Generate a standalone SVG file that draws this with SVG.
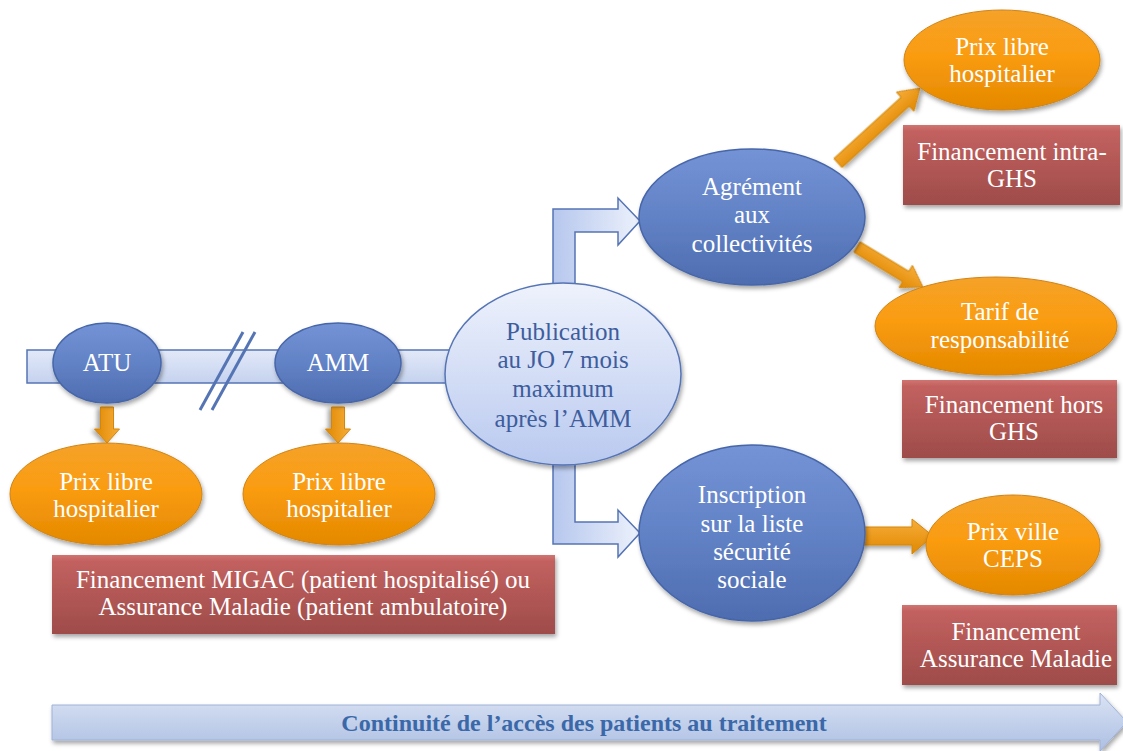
<svg xmlns="http://www.w3.org/2000/svg" width="1123" height="751" viewBox="0 0 1123 751">
<defs>
<linearGradient id="gDark" x1="0" y1="0" x2="0" y2="1"><stop offset="0" stop-color="#7493d6"/><stop offset="0.5" stop-color="#6282c6"/><stop offset="1" stop-color="#4e6cb0"/></linearGradient>
<linearGradient id="gOrange" x1="0" y1="0" x2="0" y2="1"><stop offset="0" stop-color="#f5a22a"/><stop offset="0.45" stop-color="#fa9c10"/><stop offset="1" stop-color="#e48800"/></linearGradient>
<linearGradient id="gRed" x1="0" y1="0" x2="0" y2="1"><stop offset="0" stop-color="#d07472"/><stop offset="0.08" stop-color="#c2615f"/><stop offset="1" stop-color="#9e4c4a"/></linearGradient>
<linearGradient id="gPub" x1="0" y1="0" x2="0" y2="1"><stop offset="0" stop-color="#eef2fc"/><stop offset="1" stop-color="#b9c9ef"/></linearGradient>
<linearGradient id="gBar" x1="0" y1="0" x2="0" y2="1"><stop offset="0" stop-color="#e2e9f8"/><stop offset="1" stop-color="#c5d2ef"/></linearGradient>
<linearGradient id="gBent" x1="0" y1="0" x2="1" y2="0"><stop offset="0" stop-color="#b6c7ee"/><stop offset="1" stop-color="#ecf1fb"/></linearGradient>
<linearGradient id="gBottom" x1="0" y1="0" x2="0" y2="1"><stop offset="0" stop-color="#dbe3f4"/><stop offset="0.5" stop-color="#c3d1eb"/><stop offset="1" stop-color="#adbfe2"/></linearGradient>
<linearGradient id="gArrowO" x1="0" y1="0" x2="0" y2="1"><stop offset="0" stop-color="#f7ad3a"/><stop offset="1" stop-color="#e08800"/></linearGradient>
<filter id="sh" x="-20%" y="-20%" width="140%" height="150%"><feDropShadow dx="1.5" dy="3" stdDeviation="2" flood-color="#000" flood-opacity="0.35"/></filter>
</defs>
<style>
text{font-family:"Liberation Serif","Times New Roman",serif;font-size:25px;text-anchor:middle;}
.w{fill:#ffffff;}
.b{fill:#3d5d9d;}
.dark{fill:url(#gDark);stroke:#4766a8;stroke-width:1.5;filter:url(#sh);}
.org{fill:url(#gOrange);stroke:#cf8415;stroke-width:1;filter:url(#sh);}
.red{fill:url(#gRed);filter:url(#sh);}
.oarr{fill:url(#gArrowO);stroke:#d3860a;stroke-width:1;filter:url(#sh);}
.bent{fill:url(#gBent);stroke:#5574b4;stroke-width:1.5;}
.slash{stroke:#5574b4;stroke-width:3;fill:none;}
.bt{font-weight:bold;font-size:24px;fill:#3a68a8;}
</style>
<rect width="1123" height="751" fill="#ffffff"/>

<g id="connectors">
  <rect id="timeline-bar" x="27" y="350" width="430" height="33" fill="url(#gBar)" stroke="#5574b4" stroke-width="1.5"/>
  <line class="slash" x1="200" y1="410" x2="243" y2="332"/>
  <line class="slash" x1="212" y1="410" x2="255" y2="332"/>
  <path class="bent" d="M553,285 L553,209 L618,209 L618,198 L640,221 L618,245 L618,232 L575,232 L575,285 Z"/>
  <path class="bent" d="M553,462 L553,544 L618,544 L618,557 L640,533 L618,510 L618,522 L575,522 L575,462 Z"/>
  <path class="oarr" transform="translate(107,407) rotate(90)" d="M0,-6.5 L22,-6.5 L22,-12.5 L36,0 L22,12.5 L22,6.5 L0,6.5 Z"/>
  <path class="oarr" transform="translate(338,407) rotate(90)" d="M0,-6.5 L22,-6.5 L22,-12.5 L36,0 L22,12.5 L22,6.5 L0,6.5 Z"/>
  <path class="oarr" transform="translate(838,163) rotate(-42.4)" d="M0,-6 L91,-6 L91,-13 L111,0 L91,13 L91,6 L0,6 Z"/>
  <path class="oarr" transform="translate(857,247) rotate(31.2)" d="M0,-6 L57,-6 L57,-13 L77,0 L57,13 L57,6 L0,6 Z"/>
  <path class="oarr" d="M862,527 L912,527 L912,519 L933,536 L912,554 L912,545 L862,545 Z"/>
  <path id="continuity-arrow" d="M52,705 L1100,705 L1100,693 L1127,722 L1100,751 L1100,740 L52,740 Z" fill="url(#gBottom)" stroke="#9fb2d8" stroke-width="1" filter="url(#sh)"/>
</g>

<g id="node-atu"><ellipse class="dark" cx="107" cy="363" rx="54" ry="40"/><text class="w" x="107" y="371">ATU</text></g>
<g id="node-amm"><ellipse class="dark" cx="338" cy="363" rx="63" ry="40"/><text class="w" x="338" y="371">AMM</text></g>
<g id="node-prix1"><ellipse class="org" cx="106" cy="494" rx="96" ry="51"/><text class="w" x="106" y="490">Prix libre</text><text class="w" x="106" y="517">hospitalier</text></g>
<g id="node-prix2"><ellipse class="org" cx="339" cy="494" rx="96" ry="51"/><text class="w" x="339" y="490">Prix libre</text><text class="w" x="339" y="517">hospitalier</text></g>
<g id="node-migac"><rect class="red" x="52" y="555" width="503" height="79"/><text class="w" x="303" y="588">Financement MIGAC (patient hospitalisé) ou</text><text class="w" x="303" y="615">Assurance Maladie (patient ambulatoire)</text></g>
<g id="node-publication"><ellipse cx="563" cy="374" rx="118" ry="91" fill="url(#gPub)" stroke="#5574b4" stroke-width="1.5" filter="url(#sh)"/>
<text class="b" x="563" y="340">Publication</text><text class="b" x="563" y="368">au JO 7 mois</text><text class="b" x="563" y="397">maximum</text><text class="b" x="563" y="427">après l’AMM</text></g>
<g id="node-agrement"><ellipse class="dark" cx="752" cy="217" rx="113" ry="68"/><text class="w" x="752" y="195">Agrément</text><text class="w" x="752" y="223">aux</text><text class="w" x="752" y="252">collectivités</text></g>
<g id="node-inscription"><ellipse class="dark" cx="752" cy="533" rx="113" ry="88"/><text class="w" x="752" y="503">Inscription</text><text class="w" x="752" y="532">sur la liste</text><text class="w" x="752" y="560">sécurité</text><text class="w" x="752" y="588">sociale</text></g>
<g id="node-prix3"><ellipse class="org" cx="1002" cy="60" rx="98" ry="50"/><text class="w" x="1002" y="55">Prix libre</text><text class="w" x="1002" y="82">hospitalier</text></g>
<g id="node-intra"><rect class="red" x="903" y="125" width="217" height="80"/><text class="w" x="1012" y="160">Financement intra-</text><text class="w" x="1012" y="187">GHS</text></g>
<g id="node-tarif"><ellipse class="org" cx="996" cy="326" rx="121" ry="49"/><text class="w" x="1000" y="320">Tarif de</text><text class="w" x="1000" y="348">responsabilité</text></g>
<g id="node-hors"><rect class="red" x="902" y="380" width="215" height="78"/><text class="w" x="1014" y="413">Financement hors</text><text class="w" x="1014" y="440">GHS</text></g>
<g id="node-ville"><ellipse class="org" cx="1013" cy="545" rx="87" ry="50"/><text class="w" x="1013" y="540">Prix ville</text><text class="w" x="1013" y="567">CEPS</text></g>
<g id="node-am"><rect class="red" x="902" y="605" width="215" height="80"/><text class="w" x="1016" y="640">Financement</text><text class="w" x="1016" y="667">Assurance Maladie</text></g>
<g id="node-continuity"><text class="bt" x="584" y="731">Continuité de l’accès des patients au traitement</text></g>
</svg>
